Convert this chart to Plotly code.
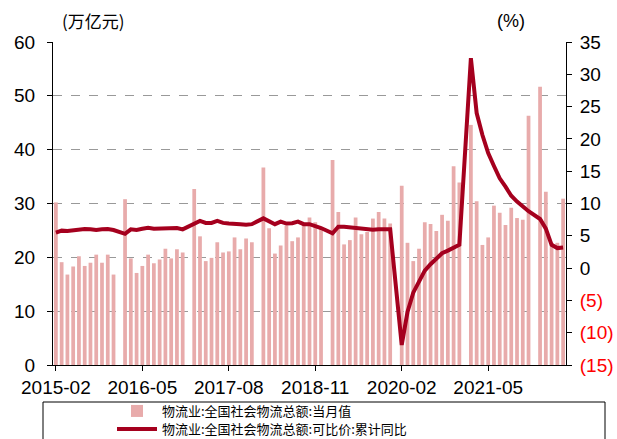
import pandas as pd
import plotly.graph_objects as go

# Monthly categories (Jan has no separate value: Jan-Feb reported together)
months = pd.period_range("2015-02", "2022-06", freq="M").strftime("%Y-%m").tolist()

# 物流业:全国社会物流总额:当月值 (万亿元)
monthly_value = [
    # 2015 Feb-Dec
    30.2, 19.1, 16.8, 18.3, 20.2, 18.4, 19.0, 20.5, 19.0, 20.5, 16.8,
    # 2016
    None, 30.8, 19.8, 17.1, 18.4, 20.5, 18.9, 19.6, 21.6, 19.8, 21.5, 20.9,
    # 2017
    None, 32.7, 23.9, 19.3, 19.9, 22.8, 20.9, 21.1, 23.7, 21.5, 23.5, 22.8,
    # 2018
    None, 36.7, 25.4, 20.7, 22.2, 25.9, 23.0, 23.7, 26.0, 27.4, 26.5, 25.3,
    # 2019
    None, 38.1, 28.4, 22.4, 23.2, 27.4, 24.3, 24.7, 27.2, 28.4, 27.2, 26.3,
    # 2020
    None, 33.3, 22.7, 19.3, 21.6, 26.5, 26.2, 24.9, 27.9, 26.8, 36.9, 33.9,
    # 2021
    None, 44.6, 30.4, 22.3, 23.7, 29.6, 28.3, 26.0, 29.2, 27.3, 27.0, 46.3,
    # 2022 Jan-Jun
    None, 51.7, 32.2, 22.7, 22.7, 30.9,
]

# 物流业:全国社会物流总额:可比价:累计同比 (%)
cumulative_yoy = [
    # 2015 Feb-Dec
    5.5, 5.8, 5.75, 5.9, 6.05, 6.05, 6.0, 5.9, 6.0, 6.05, 5.9,
    # 2016
    None, 5.3, 6.0, 5.9, 6.1, 6.25, 6.1, 6.1, 6.1, 6.15, 6.2, 6.0,
    # 2017
    None, 6.9, 7.3, 7.0, 7.0, 7.3, 7.0, 6.9, 6.9, 6.8, 6.7, 6.8,
    # 2018
    None, 7.7, 7.2, 6.8, 7.2, 6.9, 6.95, 7.2, 6.8, 6.8, 6.5, 6.2,
    # 2019
    None, 5.4, 6.4, 6.4, 6.3, 6.3, 6.1, 6.0, 5.95, 6.0, 6.0, 6.0,
    # 2020
    None, -11.9, -6.8, -3.8, -2.1, -0.4, 0.6, 1.5, 2.3, 2.7, 3.2, 3.6,
    # 2021
    None, 32.5, 24.0, 20.6, 17.8, 15.8, 13.9, 12.6, 11.2, 10.3, 9.6, 8.8,
    # 2022 Jan-Jun
    None, 7.6, 6.1, 3.6, 3.1, 3.2,
]

x_tick_labels = ["2015-02", "2016-05", "2017-08", "2018-11", "2020-02", "2021-05"]
left_ticks = [0, 10, 20, 30, 40, 50, 60]
right_ticks = [-15, -10, -5, 0, 5, 10, 15, 20, 25, 30, 35]
right_tick_text = [
    "<span style='color:#FF0000'>(15)</span>",
    "<span style='color:#FF0000'>(10)</span>",
    "<span style='color:#FF0000'>(5)</span>",
    "0", "5", "10", "15", "20", "25", "30", "35",
]

name_bar = "物流业:全国社会物流总额:当月值"
name_line = "物流业:全国社会物流总额:可比价:累计同比"

NUM_FONT = "Liberation Sans Narrow, Arial Narrow, Liberation Sans, Arial, sans-serif"
CJK_FONT = "Noto Sans CJK SC, sans-serif"

fig = go.Figure()
fig.add_trace(go.Bar(
    x=months, y=monthly_value, name=name_bar,
    marker=dict(color="#E8ABAB", line=dict(width=0)),
    yaxis="y", legend="legend",
))
fig.add_trace(go.Scatter(
    x=months, y=cumulative_yoy, name=name_line, mode="lines",
    line=dict(color="#A5001E", width=4), connectgaps=True,
    yaxis="y2", legend="legend2",
))

W, H = 617, 439
L, R, T, B = 53, 51, 42, 74
pw = W - L - R
ph = H - T - B

def px_x(px):
    return (px - L) / pw

def px_y(py):
    return (H - B - py) / ph

legend_common = dict(
    xref="container", yref="container", xanchor="left", yanchor="top",
    font=dict(family=CJK_FONT, size=13, color="black"),
    bgcolor="rgba(0,0,0,0)", borderwidth=0, itemwidth=40,
)

fig.update_layout(
    width=W, height=H,
    margin=dict(l=L, r=R, t=T, b=B, autoexpand=False),
    plot_bgcolor="white", paper_bgcolor="white",
    bargap=0.35,
    showlegend=True,
    legend=dict(x=112 / W, y=(H - 396) / H, **legend_common),
    legend2=dict(x=112 / W, y=(H - 414) / H, **legend_common),
    xaxis=dict(
        type="category", categoryorder="array", categoryarray=months,
        range=[-0.5, len(months) - 0.5],
        tickvals=x_tick_labels, ticktext=x_tick_labels,
        ticks="outside", ticklen=5, tickcolor="black",
        showline=True, linecolor="black", linewidth=1,
        showgrid=False, tickangle=0, automargin=False,
        tickfont=dict(family=NUM_FONT, size=19, color="black"),
    ),
    yaxis=dict(
        range=[0, 60], tickvals=left_ticks,
        ticks="outside", ticklen=5, tickcolor="black",
        showline=True, linecolor="black", linewidth=1,
        showgrid=True, gridcolor="#999999", griddash="dash", gridwidth=1,
        zeroline=False, ticklabelstandoff=8, automargin=False,
        tickfont=dict(family=NUM_FONT, size=19, color="black"),
    ),
    yaxis2=dict(
        range=[-15, 35], tickvals=right_ticks, ticktext=right_tick_text,
        overlaying="y", side="right", anchor="x",
        ticks="outside", ticklen=5, tickcolor="black",
        showline=True, linecolor="black", linewidth=1,
        showgrid=False, zeroline=False, ticklabelstandoff=4, automargin=False,
        tickfont=dict(family=NUM_FONT, size=19, color="black"),
    ),
    annotations=[
        dict(text="(万亿元)", x=px_x(60), y=px_y(21), xref="paper", yref="paper",
             xanchor="left", yanchor="middle", showarrow=False,
             font=dict(family=CJK_FONT, size=17, color="black")),
        dict(text="(%)", x=px_x(511), y=px_y(21), xref="paper", yref="paper",
             xanchor="center", yanchor="middle", showarrow=False,
             font=dict(family=NUM_FONT, size=18, color="black")),
    ],
    shapes=[
        dict(type="rect", xref="paper", yref="paper",
             x0=px_x(43), x1=px_x(605), y0=px_y(448), y1=px_y(402),
             line=dict(color="black", width=1), fillcolor="rgba(0,0,0,0)"),
    ],
)

fig.write_html(
    "out.html",
    config={"displayModeBar": False},
    post_script="document.body.style.margin='0px';document.body.style.overflow='hidden';",
)
